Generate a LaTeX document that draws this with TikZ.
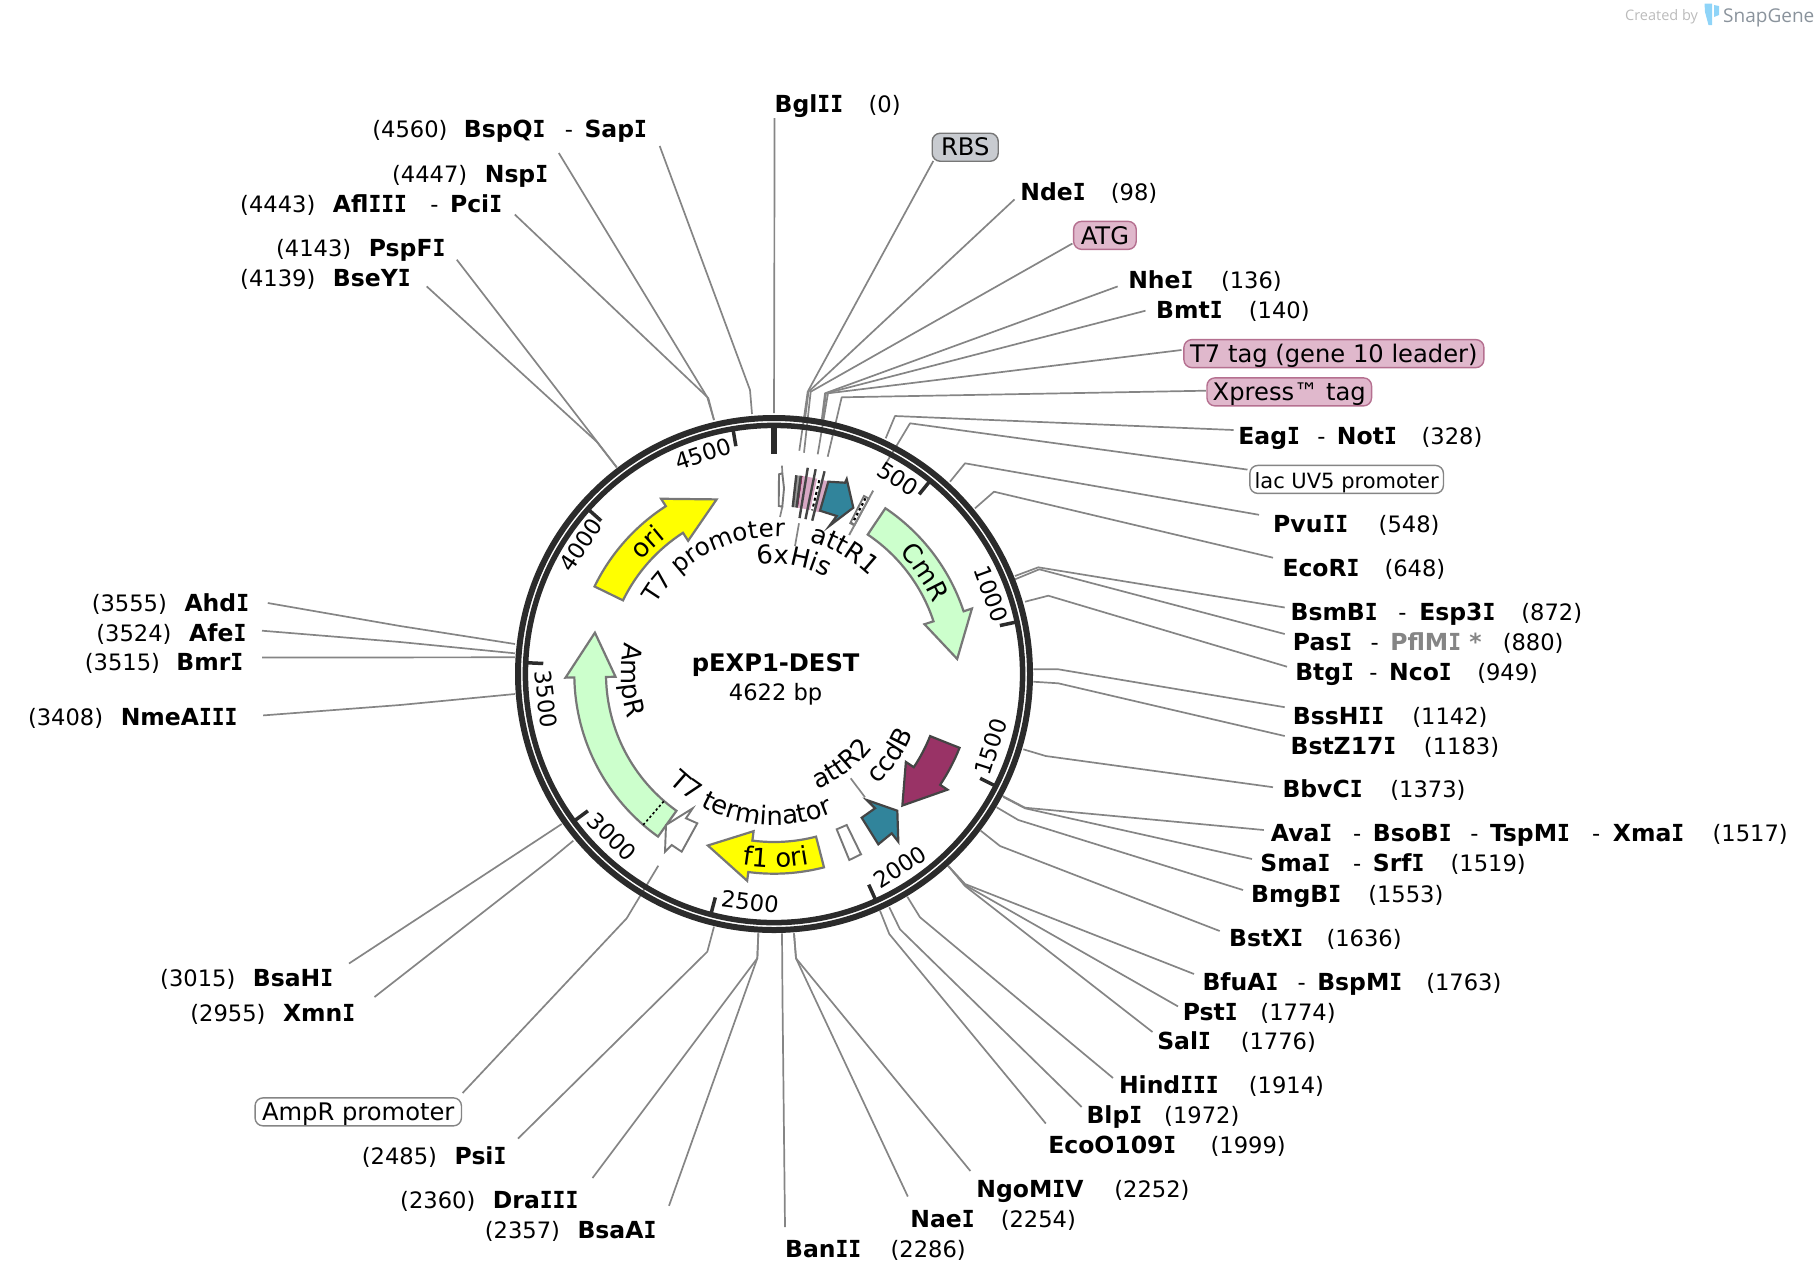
\documentclass[tikz,border=0pt]{standalone}
\usepackage{fontspec}
\usetikzlibrary{decorations.text}
\setmainfont{DejaVu Sans}
\newfontfamily\logofont{Open Sans}
\newfontface\monoIf[FakeStretch=0.907]{DejaVu Sans Mono Bold}
\newXeTeXintercharclass\Icl
\XeTeXcharclass`I=\Icl
\XeTeXinterchartoks 0 \Icl = {\begingroup\monoIf}
\XeTeXinterchartoks 4095 \Icl = {\begingroup\monoIf}
\XeTeXinterchartoks \Icl 0 = {\endgroup}
\XeTeXinterchartoks \Icl 4095 = {\endgroup}
\definecolor{ringc}{HTML}{2B2B2B}
\definecolor{leadc}{HTML}{858585}
\definecolor{tealf}{HTML}{31849B}
\definecolor{pinkf}{HTML}{D8A8C4}
\definecolor{pinkb}{HTML}{E0B8CC}
\definecolor{pinkl}{HTML}{B57090}
\definecolor{magf}{HTML}{993366}
\definecolor{greenf}{HTML}{CCFFCC}
\definecolor{yelf}{HTML}{FFFF00}
\definecolor{strk}{HTML}{777777}
\definecolor{darks}{HTML}{444444}
\definecolor{rbsf}{HTML}{C8CBD0}
\definecolor{logob}{HTML}{8FD4F8}
\definecolor{logot}{HTML}{8A939C}
\definecolor{logoc}{HTML}{BBBBBB}
\def\rs{\fontsize{22.6}{26}\selectfont}
\def\bs{\fontsize{24.2}{28}\selectfont}
\def\as{\fontsize{25.8}{30}\selectfont}
\def\ps{\fontsize{24.6}{30}\selectfont}
\tikzset{
  leader/.style={draw=leadc,line width=1.7pt,line join=round},
  enz/.style={anchor=base west,inner sep=0pt,font={\XeTeXinterchartokenstate=1 \fontsize{23.5}{28}\selectfont\bfseries}},
  numl/.style={anchor=base west,inner sep=0pt,font=\rs},
  ticklab/.style={inner sep=0pt,font=\rs},
  boxl/.style={draw=#1,line width=1.4pt,rounded corners=8pt,minimum height=28pt,inner sep=0pt,text height=17.5pt,text depth=0pt,font=\bs},
  feat/.style={line width=2.2pt,line join=miter},
  tickm/.style={draw=ringc,line width=3.5pt},
  band/.style={line width=1.2pt}
}
\newcount\lc
\newcommand{\En}[3]{\global\advance\lc by 1 \node[enz] (e\the\lc) at (#1,#2+8) {#3};}
\newcommand{\Nu}[3]{\global\advance\lc by 1 \node[numl] (n\the\lc) at (#1,#2+8) {#3};}
% connector: id, label end, elbow, site end
\newcommand{\Lk}[4]{\coordinate (#1-l) at (#2); \coordinate (#1-e) at (#3); \coordinate (#1-s) at (#4); \draw[leader] (#1-l) -- (#1-e) -- (#1-s);}
\newcommand{\Arw}[5]{\draw[feat,fill=#4,draw=#5] ({#1-90}:199.7) arc[start angle={#1-90},end angle={#2-90},radius=199.7] -- ({#2-90}:208.5) -- ({#3-90}:183.8) -- ({#2-90}:158.5) -- ({#2-90}:168) arc[start angle={#2-90},end angle={#1-90},radius=168] -- cycle;}
\newcommand{\Bnd}[3]{\draw[band,fill=#3,draw=none] ({#1-90}:200) arc[start angle={#1-90},end angle={#2-90},radius=200] -- ({#2-90}:168) arc[start angle={#2-90},end angle={#1-90},radius=168] -- cycle;}
% text along an arc: text, font, radius, middle angle, half span (sign gives direction)
\newcommand{\Arc}[5]{\path[decorate,decoration={text along path,text={|#2|#1},text align=center}] ({#4-(#5)-90}:#3) arc[start angle={#4-(#5)-90},end angle={#4+(#5)-90},radius=#3];}
\begin{document}
\begin{tikzpicture}[x=1pt,y=-1pt]
\useasboundingbox (0,0) rectangle (1818,1286);
% ---- connectors
\Lk{bgl}{774.5,118}{774.3,300}{774,413}
\Lk{bsp}{659.7,146}{750,390}{752,414}
\Lk{nsp}{558.8,153}{707.3,397.3}{714,420}
\Lk{afl}{514.8,214.5}{708.3,398}{714,420}
\Lk{psp}{456.8,259.7}{598.3,443.3}{616.7,467.3}
\Lk{bse}{426.7,286.4}{596.7,441.7}{616.7,467.3}
\Lk{rbs}{933.3,161}{807.7,391.7}{799.3,450.7}
\Lk{nde}{1014.5,199.4}{808.5,391.7}{805,419}
\Lk{atg}{1072.4,243.5}{810.7,391.7}{804,452.7}
\Lk{nhe}{1117.7,286.4}{825,393.3}{821.7,420}
\Lk{bmt}{1145.5,310.7}{826,393.3}{822.5,420}
\Lk{tsv}{1181.5,350}{828,393.3}{817.7,454.3}
\Lk{xpr}{1205.8,390.7}{841.7,397.3}{827.7,456.7}
\Lk{eag}{1233.6,430}{895,416}{885.7,438.3}
\Lk{lac}{1247.5,469.6}{910,423.3}{885,465}
\Lk{pvu}{1259,514.8}{965,463.3}{950,481.7}
\Lk{eco}{1273,557.7}{994,491.7}{975,508.3}
\Lk{bsm}{1284.7,607.5}{1038.3,567.3}{1015,576}
\Lk{pas}{1284.7,634}{1039.3,569.3}{1015,579.3}
\Lk{btg}{1287,666.7}{1048.3,595.7}{1025,601.7}
\Lk{bss}{1284.7,707.2}{1058.3,669.3}{1033.3,669.3}
\Lk{bst}{1284.7,736}{1058.3,683.3}{1033.3,681.7}
\Lk{bbv}{1273,787.2}{1045.7,756}{1023.3,749.3}
\Lk{ava}{1263.8,830}{1025,807.7}{1002.7,796}
\Lk{sma}{1252,859}{1025,808.3}{1003.3,797}
\Lk{bmg}{1243,890}{1018.3,820}{996.7,807.3}
\Lk{bsx}{1219.7,931}{1000,846}{980.7,830.7}
\Lk{bfu}{1194,974}{965,884}{948.3,866}
\Lk{pst}{1178,1006.4}{965,885}{948.3,866}
\Lk{sal}{1152.5,1032}{965,886}{948.3,866}
\Lk{hin}{1113,1078}{920,917.3}{907.3,896.7}
\Lk{blp}{1081.7,1107}{900,929.3}{889.3,907.3}
\Lk{ecb}{1045.8,1123.5}{889.3,934}{880,910.7}
\Lk{ngo}{970.4,1171}{796,958.3}{794,933.3}
\Lk{nae}{907.8,1196.5}{796,958.3}{794,933.3}
\Lk{ban}{785,1227}{782.5,1000}{782,933.3}
\Lk{bsa}{669,1205.8}{757.3,958.3}{758.3,933.3}
\Lk{dra}{592.5,1178}{757.3,958.3}{758.3,933.3}
\Lk{psi}{518,1138.6}{707.3,951.7}{714,926.7}
\Lk{amp}{462.6,1093}{626.7,918.3}{658.3,865.7}
\Lk{xmn}{374.5,997}{550,860}{573.3,840.7}
\Lk{bsh}{349,963.5}{540,838.3}{561.7,824}
\Lk{ahd}{267.8,603}{400,626}{515,644}
\Lk{afe}{262,630.7}{400,642}{515,653.3}
\Lk{bmr}{262,657.4}{400,657.4}{515,657.3}
\Lk{nme}{263.2,715.4}{400,705}{515,694}
% ---- ring, ticks and features, all about the centre
\begin{scope}[shift={(774,674)}]
\draw[ringc,line width=6pt] (0,0) circle[radius=256];
\draw[ringc,line width=5.5pt] (0,0) circle[radius=248.6];
\draw[ringc,line width=5.5pt] (-90:246) -- (-90:220);
\foreach \a in {38.94,77.89,116.83,155.78,194.72,233.67,272.61,311.55,350.5}{
  \draw[tickm] ({\a-90}:247) -- ({\a-90}:231);
}
\Arw{33.9}{71.7}{85.3}{greenf}{strk}
\Arw{-64}{-32.8}{-18.2}{yelf}{strk}
\Arw{-144.5}{-91}{-77}{greenf}{strk}
\Arw{165.5}{187.4}{201.1}{yelf}{strk}
\Arw{111.7}{123.7}{135.7}{magf}{darks}
\draw[black,line width=1.6pt,dash pattern=on 2.4pt off 2.4pt] ({-139.1-90}:199.7) -- ({-139.1-90}:168.5);
% small features near the origin
\Bnd{6.3}{7.7}{gray!80}
\Bnd{7.7}{8.3}{magf}
\Bnd{8.3}{12.5}{pinkf}
\Bnd{13.8}{15.6}{pinkf}
\Bnd{12.5}{13.8}{white}
\draw[black,line width=2pt,dash pattern=on 3pt off 3pt] ({13.15-90}:199) -- ({13.15-90}:168);
\draw[darks,line width=2.4pt] ({6.4-90}:200) -- ({6.4-90}:168);
\draw[darks,line width=2.4pt] ({7.7-90}:200) -- ({7.7-90}:168);
\foreach \a in {9.3,11.5,14}{\draw[darks,line width=2.4pt] ({\a-90}:209) -- ({\a-90}:158);}
% attR1 hatched band
\draw[strk,line width=1.8pt,fill=white] ({26.8-90}:199.5) arc[start angle={26.8-90},end angle={28.4-90},radius=199.5] -- ({28.4-90}:169) arc[start angle={28.4-90},end angle={26.8-90},radius=169] -- cycle;
\draw[black,line width=2.2pt,dash pattern=on 2.5pt off 3pt] ({27.5-90}:198) -- ({27.5-90}:170);
\draw[leadc,line width=1.9pt] ({28.4-90}:208.5) -- ({28.4-90}:158);
\end{scope}
% polygon features
\draw[feat,fill=tealf,draw=darks,line width=2.2pt] (846.7,479) -- (845,482.7) -- (828.3,481.7) -- (820,510.7) -- (836.7,516) -- (829.3,526) -- (853.3,507.7) -- cycle;
\draw[feat,fill=tealf,draw=darks] (866.7,800) -- (875,808.3) -- (861.7,817.7) -- (878.3,844.3) -- (891.7,833.3) -- (898.3,841.7) -- (897.3,810.7) -- cycle;
\draw[feat,fill=white,draw=strk,line width=1.9pt] (692.7,808.3) -- (666,825) -- (665,851.7) -- (671.7,845) -- (681.7,851.7) -- (697.3,823.3) -- (686,818.3) -- cycle;
\draw[feat,fill=white,draw=strk,line width=1.9pt] (836.7,829.3) -- (846.7,825) -- (861,854.3) -- (849.3,860) -- cycle;
\draw[feat,fill=white,draw=strk,line width=1.9pt] (779,474.3) -- (782.3,473.3) -- (784,488.3) -- (782.3,506.7) -- (778.7,506) -- cycle;
% short leaders inside the ring
\coordinate (tp1) at (782,465.7); \coordinate (tp2) at (782.3,473.3); \draw[leader] (tp1) -- (tp2);
\coordinate (tp3) at (782.3,506.7); \coordinate (tp4) at (780,517); \draw[leader] (tp3) -- (tp4);
\coordinate (hs1) at (799,523.3); \coordinate (hs2) at (795,546); \draw[leader] (hs1) -- (hs2);
\coordinate (ar1) at (850.7,778.3); \coordinate (ar2) at (865,797.3); \draw[leader] (ar1) -- (ar2);
% ---- tick numbers
\node[ticklab,rotate=18] (t4500) at (703,454) {4500};
\node[ticklab,rotate=-33] (t500) at (898,479) {500};
\node[ticklab,rotate=-70] (t1000) at (991,594) {1000};
\node[ticklab,rotate=72] (t1500) at (991,747) {1500};
\node[ticklab,rotate=33] (t2000) at (900,867) {2000};
\node[ticklab,rotate=-7] (t2500) at (750,902) {2500};
\node[ticklab,rotate=-45] (t3000) at (612,837) {3000};
\node[ticklab,rotate=-83] (t3500) at (546,699) {3500};
\node[ticklab,rotate=56] (t4000) at (581,545) {4000};
% ---- feature names along arcs
\begin{scope}[shift={(774,674)}]
\Arc{T7 promoter}{\ps}{137}{-27.7}{48}
\Arc{6xHis}{\as}{110}{10}{36}
\Arc{attR1}{\as}{137}{29.7}{26}
\Arc{T7 terminator}{\as}{151}{190.5}{-48}
\Arc{attR2}{\as}{123}{143}{-28}
\Arc{ccdB}{\as}{151}{125}{-20}
\Arc{AmpR}{\as}{153}{-92.5}{-26}
\Arc{CmR}{\as}{174}{56}{22}
\Arc{ori}{\as}{174}{-44}{18}
\Arc{f1 ori}{\as}{193.5}{179.5}{-21}
\end{scope}
\node[inner sep=0pt,font={\fontsize{24.2}{28}\selectfont\bfseries}] (title) at (775.6,665) {pEXP1-DEST};
\node[inner sep=0pt,font=\rs] (size) at (775.6,694) {4622 bp};
% ---- labels, written in the 1568-wide grid
\begin{scope}[x=1.1594pt,y=-1.1594pt]
\En{668}{89}{BglII}\Nu{749}{89}{(0)}
\Nu{321}{111}{(4560)}\En{400}{111}{BspQI}\Nu{487}{111}{-}\En{504}{111}{SapI}
\Nu{338}{149}{(4447)}\En{418}{149}{NspI}
\Nu{207}{175}{(4443)}\En{287}{175}{AflIII}\Nu{371}{175}{-}\En{388}{175}{PciI}
\Nu{238}{213}{(4143)}\En{318}{213}{PspFI}
\Nu{207}{239}{(4139)}\En{287}{239}{BseYI}
\Nu{79}{519}{(3555)}\En{159}{519}{AhdI}
\Nu{83}{545}{(3524)}\En{163}{545}{AfeI}
\Nu{73}{570}{(3515)}\En{152}{570}{BmrI}
\Nu{24}{618}{(3408)}\En{104}{618}{NmeAIII}
\Nu{138}{843}{(3015)}\En{218}{843}{BsaHI}
\Nu{164}{873}{(2955)}\En{244}{873}{XmnI}
\Nu{312}{996}{(2485)}\En{392}{996}{PsiI}
\Nu{345}{1034}{(2360)}\En{425}{1034}{DraIII}
\Nu{418}{1060}{(2357)}\En{498}{1060}{BsaAI}
\En{677}{1077}{BanII}\Nu{768}{1077}{(2286)}
\En{785}{1051}{NaeI}\Nu{863}{1051}{(2254)}
\En{842}{1025}{NgoMIV}\Nu{961}{1025}{(2252)}
\En{904}{987}{EcoO109I}\Nu{1044}{987}{(1999)}
\En{937}{961}{BlpI}\Nu{1004}{961}{(1972)}
\En{965}{935}{HindIII}\Nu{1077}{935}{(1914)}
\En{998}{897}{SalI}\Nu{1070}{897}{(1776)}
\En{1020}{872}{PstI}\Nu{1087}{872}{(1774)}
\En{1037}{846}{BfuAI}\Nu{1119}{846}{-}\En{1136}{846}{BspMI}\Nu{1230}{846}{(1763)}
\En{1060}{808}{BstXI}\Nu{1144}{808}{(1636)}
\En{1079}{770}{BmgBI}\Nu{1180}{770}{(1553)}
\En{1087}{744}{SmaI}\Nu{1167}{744}{-}\En{1184}{744}{SrfI}\Nu{1251}{744}{(1519)}
\En{1096}{718}{AvaI}\Nu{1167}{718}{-}\En{1184}{718}{BsoBI}\Nu{1268}{718}{-}\En{1285}{718}{TspMI}\Nu{1373}{718}{-}\En{1391}{718}{XmaI}\Nu{1477}{718}{(1517)}
\En{1106}{680}{BbvCI}\Nu{1199}{680}{(1373)}
\En{1113}{643}{BstZ17I}\Nu{1228}{643}{(1183)}
\En{1115}{617}{BssHII}\Nu{1218}{617}{(1142)}
\En{1117}{579}{BtgI}\Nu{1181}{579}{-}\En{1198}{579}{NcoI}\Nu{1274}{579}{(949)}
\En{1115}{553}{PasI}\Nu{1182}{553}{-}\En{1199}{553}{\textcolor{leadc}{PflMI *}}\Nu{1296}{553}{(880)}
\En{1113}{527}{BsmBI}\Nu{1206}{527}{-}\En{1224}{527}{Esp3I}\Nu{1312}{527}{(872)}
\En{1106}{489}{EcoRI}\Nu{1194}{489}{(648)}
\En{1098}{451}{PvuII}\Nu{1189}{451}{(548)}
\En{1068}{375}{EagI}\Nu{1136}{375}{-}\En{1153}{375}{NotI}\Nu{1226}{375}{(328)}
\En{997}{267}{BmtI}\Nu{1077}{267}{(140)}
\En{973}{241}{NheI}\Nu{1053}{241}{(136)}
\En{880}{165}{NdeI}\Nu{958}{165}{(98)}
\node[boxl=strk,fill=rbsf,minimum width=66pt] (brbs) at (832.5,127) {RBS};
\node[boxl=pinkl,fill=pinkb,minimum width=62.6pt] (batg) at (953,203) {ATG};
\node[boxl=pinkl,fill=pinkb,minimum width=300pt] (bt7) at (1150.5,305) {T7 tag (gene 10 leader)};
\node[boxl=pinkl,fill=pinkb,minimum width=164.6pt] (bxp) at (1112,338) {Xpress™ tag};
\node[boxl=leadc,fill=white,minimum width=193.6pt,font={\fontsize{21}{26}\selectfont}] (blac) at (1161.5,413.5) {lac UV5 promoter};
\node[boxl=leadc,fill=white,minimum width=206.4pt] (bamp) at (309,959) {AmpR promoter};
\end{scope}
% ---- credit
\node[anchor=base west,inner sep=0pt,text=logoc,font={\logofont\fontsize{14.5}{16}\selectfont}] (cred) at (1625,20) {Created by};
\fill[logob] (1704.5,3.5) -- (1712,3.5) -- (1712,25) -- (1708.5,25) -- (1705,12) -- cycle;
\fill[logob] (1714,5) -- (1719,6) -- (1719,15) -- (1714,17) -- cycle;
\node[anchor=base west,inner sep=0pt,text=logot,font={\logofont\fontsize{19}{22}\selectfont}] (sg) at (1723,22) {SnapGene};
\end{tikzpicture}
\end{document}
